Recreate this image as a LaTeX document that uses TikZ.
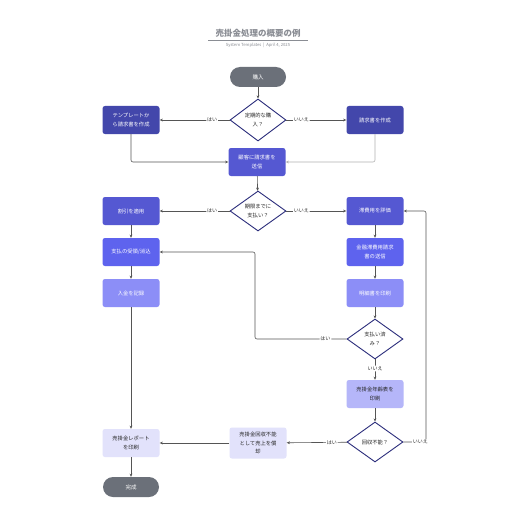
\documentclass[tikz,border=0pt]{standalone}
\usepackage{fontspec}
\setmainfont{Noto Sans CJK JP}
\usetikzlibrary{shapes.geometric,arrows.meta}
\definecolor{termgray}{HTML}{6B7079}
\definecolor{cA}{HTML}{4347AB}
\definecolor{cB}{HTML}{5558D2}
\definecolor{cC}{HTML}{5E63EE}
\definecolor{cD}{HTML}{8C8EF7}
\definecolor{cE}{HTML}{B5B6F9}
\definecolor{cF}{HTML}{E2E2FB}
\definecolor{navy}{HTML}{2C2E7C}
\definecolor{linegray}{HTML}{555555}
\definecolor{titlegray}{HTML}{8A8D94}
\tikzset{
  x=1pt,y=-1pt,
  boxnode/.style={rectangle, rounded corners=2.5pt, minimum width=57pt, minimum height=28pt, inner sep=1pt,
    font=\fontsize{5.3}{8.5}\selectfont, align=center, text=white},
  termnode/.style={rectangle, rounded corners=10pt, minimum width=56pt, minimum height=20pt, fill=termgray,
    font=\fontsize{5.5}{8}\selectfont, text=white},
  decnode/.style={diamond, draw=navy, line width=0.9pt, fill=white, minimum width=56pt, minimum height=42pt,
    inner sep=0pt, font=\fontsize{5.3}{8.5}\selectfont, align=center, text=black!85},
  conn/.style={draw=linegray, line width=0.6pt, rounded corners=2pt, -{Stealth[length=3.2pt,width=2.8pt]}},
  lbl/.style={fill=white, inner sep=0.8pt, font=\fontsize{5}{6}\selectfont, text=black!85},
}
\begin{document}
\begin{tikzpicture}
\useasboundingbox[fill=white] (0,0) rectangle (516,516);
% title
\node[font=\bfseries\fontsize{8.5}{10}\selectfont, text=titlegray] (title) at (258,33) {売掛金処理の概要の例};
\draw[titlegray, line width=0.5pt] (208,40.5) -- (308,40.5);
\node[font=\fontsize{4.2}{5}\selectfont, text=titlegray] (sub) at (258,45.5) {System Templates \ | \ April 4, 2025};

% nodes
\node[termnode] (buy) at (258,77) {購入};
\node[decnode] (d1) at (258,120) {定期的な購\\入？};
\node[boxnode, fill=cA] (tmpl) at (131,120) {テンプレートか\\ら請求書を作成};
\node[boxnode, fill=cA] (make) at (375,120) {請求書を作成};
\node[boxnode, fill=cB] (send) at (257,162) {顧客に請求書を\\送信};
\node[decnode, minimum height=40pt] (d2) at (258,211) {期限までに\\支払い？};
\node[boxnode, fill=cB] (disc) at (131,211) {割引を適用};
\node[boxnode, fill=cC] (recv) at (131,252) {支払の受領/消込};
\node[boxnode, fill=cD] (dep) at (131,293) {入金を記録};
\node[boxnode, fill=cB] (late) at (375,211) {滞費用を評価};
\node[boxnode, fill=cC] (fin) at (375,252) {金融滞費用請求\\書の送信};
\node[boxnode, fill=cD] (stmt) at (375,293) {明細書を印刷};
\node[decnode, minimum height=40pt] (d3) at (375,339) {支払い済\\み？};
\node[boxnode, fill=cE, text=black!85] (aging) at (375,394) {売掛金年齢表を\\印刷};
\node[decnode, minimum height=40pt] (d4) at (375,442) {回収不能？};
\node[boxnode, fill=cF, text=black!85, minimum height=31pt] (wo) at (258,443) {売掛金回収不能\\として売上を償\\却};
\node[boxnode, fill=cF, text=black!85] (rep) at (131,443) {売掛金レポート\\を印刷};
\node[termnode] (done) at (131,487) {完成};

% connectors
\draw[conn] (buy) -- (d1);
\draw[conn] (d1) -- node[lbl, pos=0.25] {はい} (tmpl);
\draw[conn] (d1) -- node[lbl, pos=0.25] {いいえ} (make);
\draw[conn] (tmpl.south) |- (send.west);
\draw[conn, draw=linegray!45] (make.south) |- (send.east);
\draw[conn] (send) -- (d2);
\draw[conn] (d2) -- node[lbl, pos=0.25] {はい} (disc);
\draw[conn] (d2) -- node[lbl, pos=0.25] {いいえ} (late);
\draw[conn] (disc) -- (recv);
\draw[conn] (recv) -- (dep);
\draw[conn] (dep) -- (rep);
\draw[conn] (late) -- (fin);
\draw[conn] (fin) -- (stmt);
\draw[conn] (stmt) -- (d3);
\coordinate (c3) at (255,339);
\draw[conn] (d3.west) -- node[lbl, pos=0.23] {はい} (c3) |- (recv.east);
\draw[conn] (d3) -- node[lbl, pos=0.45] {いいえ} (aging);
\draw[conn] (aging) -- (d4);
\draw[conn] (d4) -- node[lbl, pos=0.25] {はい} (wo);
\coordinate (c4) at (426,442);
\draw[conn] (d4.east) -- node[lbl, pos=0.75] {いいえ} (c4) |- (late.east);
\draw[conn] (wo) -- (rep);
\draw[conn] (rep) -- (done);
\end{tikzpicture}
\end{document}
